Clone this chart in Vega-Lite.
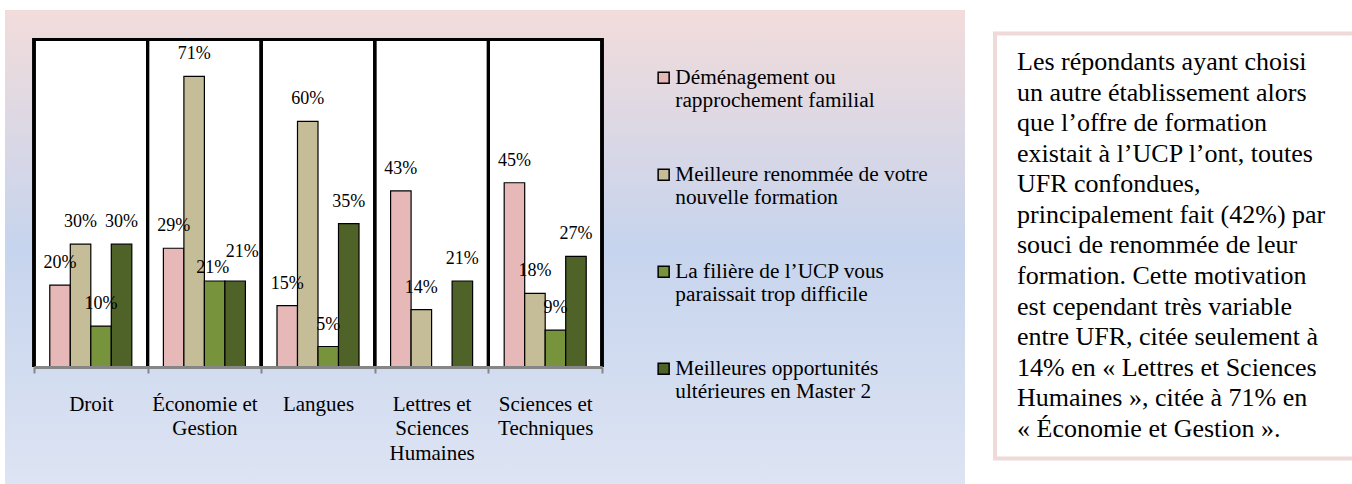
{
  "$schema": "https://vega.github.io/schema/vega-lite/v6.json",
  "padding": {"left": 5, "top": 10, "right": 0, "bottom": 0},
  "background": "white",
  "spacing": 28,
  "center": true,
  "config": {"font": "Liberation Serif", "text": {"font": "Liberation Serif"}, "view": {"stroke": null}},
  "hconcat": [
    {
      "width": 960,
      "height": 474,
      "view": {
        "stroke": null,
        "fill": {
          "gradient": "linear",
          "x1": 0, "y1": 0, "x2": 0, "y2": 1,
          "stops": [
            {"offset": 0, "color": "#f2dcdb"},
            {"offset": 0.5, "color": "#c6d4ed"},
            {"offset": 1, "color": "#dde4f3"}
          ]
        }
      },
      "data": {
        "values": [
          {"cat": "Droit", "series": "Déménagement ou rapprochement familial", "value": 0.20},
          {"cat": "Droit", "series": "Meilleure renommée de votre nouvelle formation", "value": 0.30},
          {"cat": "Droit", "series": "La filière de l’UCP vous paraissait trop difficile", "value": 0.10},
          {"cat": "Droit", "series": "Meilleures opportunités ultérieures en Master 2", "value": 0.30},
          {"cat": "Économie et Gestion", "series": "Déménagement ou rapprochement familial", "value": 0.29},
          {"cat": "Économie et Gestion", "series": "Meilleure renommée de votre nouvelle formation", "value": 0.71},
          {"cat": "Économie et Gestion", "series": "La filière de l’UCP vous paraissait trop difficile", "value": 0.21},
          {"cat": "Économie et Gestion", "series": "Meilleures opportunités ultérieures en Master 2", "value": 0.21},
          {"cat": "Langues", "series": "Déménagement ou rapprochement familial", "value": 0.15},
          {"cat": "Langues", "series": "Meilleure renommée de votre nouvelle formation", "value": 0.60},
          {"cat": "Langues", "series": "La filière de l’UCP vous paraissait trop difficile", "value": 0.05},
          {"cat": "Langues", "series": "Meilleures opportunités ultérieures en Master 2", "value": 0.35},
          {"cat": "Lettres et Sciences Humaines", "series": "Déménagement ou rapprochement familial", "value": 0.43},
          {"cat": "Lettres et Sciences Humaines", "series": "Meilleure renommée de votre nouvelle formation", "value": 0.14},
          {"cat": "Lettres et Sciences Humaines", "series": "Meilleures opportunités ultérieures en Master 2", "value": 0.21},
          {"cat": "Sciences et Techniques", "series": "Déménagement ou rapprochement familial", "value": 0.45},
          {"cat": "Sciences et Techniques", "series": "Meilleure renommée de votre nouvelle formation", "value": 0.18},
          {"cat": "Sciences et Techniques", "series": "La filière de l’UCP vous paraissait trop difficile", "value": 0.09},
          {"cat": "Sciences et Techniques", "series": "Meilleures opportunités ultérieures en Master 2", "value": 0.27}
        ]
      },
      "encoding": {
        "x": {
          "field": "cat",
          "type": "nominal",
          "scale": {
            "domain": ["Droit", "Économie et Gestion", "Langues", "Lettres et Sciences Humaines", "Sciences et Techniques"],
            "range": [29, 597],
            "paddingInner": 0,
            "paddingOuter": 0
          },
          "axis": {
            "orient": "bottom",
            "offset": -117,
            "title": null,
            "zindex": 1,
            "grid": false,
            "domainColor": "#868686",
            "domainWidth": 3,
            "tickColor": "#868686",
            "tickWidth": 2,
            "tickSize": 6,
            "tickBand": "extent",
            "labelFont": "Liberation Serif",
            "labelFontSize": 21,
            "labelColor": "black",
            "labelAngle": 0,
            "labelPadding": 20,
            "labelLineHeight": 24.5,
            "labelLimit": 0,
            "labelExpr": "datum.label == 'Économie et Gestion' ? ['Économie et', 'Gestion'] : datum.label == 'Lettres et Sciences Humaines' ? ['Lettres et', 'Sciences', 'Humaines'] : datum.label == 'Sciences et Techniques' ? ['Sciences et', 'Techniques'] : datum.label"
          }
        },
        "y": {
          "field": "value",
          "type": "quantitative",
          "scale": {"domain": [-0.2858, 0.872], "nice": false, "zero": false},
          "axis": null
        }
      },
      "layer": [
        {
          "mark": {"type": "bar", "width": {"band": 1}, "color": "white"},
          "encoding": {
            "y": {"datum": 0, "type": "quantitative", "axis": null},
            "y2": {"datum": 0.8}
          }
        },
        {
          "mark": {"type": "bar", "width": {"band": 1}, "color": "black"},
          "encoding": {
            "y": {"datum": 0.7965, "type": "quantitative", "axis": null},
            "y2": {"datum": 0.8035}
          }
        },
        {
          "mark": {"type": "rule", "color": "black", "strokeWidth": 3},
          "encoding": {
            "x": {"field": "cat", "type": "nominal", "bandPosition": 0},
            "y": {"datum": 0, "type": "quantitative", "axis": null},
            "y2": {"datum": 0.8035}
          }
        },
        {
          "transform": [{"filter": "datum.cat == 'Sciences et Techniques'"}],
          "mark": {"type": "rule", "color": "black", "strokeWidth": 3},
          "encoding": {
            "x": {"field": "cat", "type": "nominal", "bandPosition": 1},
            "y": {"datum": 0, "type": "quantitative", "axis": null},
            "y2": {"datum": 0.8035}
          }
        },
        {
          "mark": {"type": "bar", "stroke": "black", "strokeWidth": 1.2},
          "encoding": {
            "xOffset": {
              "field": "series",
              "type": "nominal",
              "sort": ["Déménagement ou rapprochement familial", "Meilleure renommée de votre nouvelle formation", "La filière de l’UCP vous paraissait trop difficile", "Meilleures opportunités ultérieures en Master 2"],
              "scale": {"paddingInner": 0, "paddingOuter": 0.77}
            },
            "color": {
              "field": "series",
              "type": "nominal",
              "scale": {
                "domain": ["Déménagement ou rapprochement familial", "Meilleure renommée de votre nouvelle formation", "La filière de l’UCP vous paraissait trop difficile", "Meilleures opportunités ultérieures en Master 2"],
                "range": ["#e6b9b8", "#c4bd97", "#77933c", "#4f6228"]
              },
              "legend": {
                "orient": "none",
                "legendX": 648,
                "legendY": 57,
                "title": null,
                "labelFont": "Liberation Serif",
                "labelFontSize": 21.3,
                "labelColor": "black",
                "labelLimit": 500,
                "labelLineHeight": 26,
                "labelOffset": 1,
                "rowPadding": 51,
                "symbolType": "square",
                "symbolSize": 121,
                "symbolStrokeColor": "black",
                "symbolStrokeWidth": 1.5,
                "symbolOpacity": 1,
                "labelExpr": "datum.label == 'Déménagement ou rapprochement familial' ? ['Déménagement ou', 'rapprochement familial'] : datum.label == 'Meilleure renommée de votre nouvelle formation' ? ['Meilleure renommée de votre', 'nouvelle formation'] : datum.label == 'La filière de l’UCP vous paraissait trop difficile' ? ['La filière de l’UCP vous', 'paraissait trop difficile'] : ['Meilleures opportunités', 'ultérieures en Master 2']"
              }
            }
          }
        },
        {
          "transform": [{"filter": "datum.cat != 'Économie et Gestion' || datum.value > 0.25"}],
          "mark": {"type": "text", "dy": -22, "baseline": "middle", "align": "center", "font": "Liberation Serif", "fontSize": 18, "color": "black"},
          "encoding": {
            "xOffset": {
              "field": "series",
              "type": "nominal",
              "sort": ["Déménagement ou rapprochement familial", "Meilleure renommée de votre nouvelle formation", "La filière de l’UCP vous paraissait trop difficile", "Meilleures opportunités ultérieures en Master 2"],
              "scale": {"paddingInner": 0, "paddingOuter": 0.77}
            },
            "text": {"field": "value", "type": "quantitative", "format": ".0%"}
          }
        },
        {
          "transform": [{"filter": "datum.cat == 'Économie et Gestion' && datum.series == 'La filière de l’UCP vous paraissait trop difficile'"}],
          "mark": {"type": "text", "dy": -13, "dx": -2, "baseline": "middle", "align": "center", "font": "Liberation Serif", "fontSize": 18, "color": "black"},
          "encoding": {
            "xOffset": {
              "field": "series",
              "type": "nominal",
              "sort": ["Déménagement ou rapprochement familial", "Meilleure renommée de votre nouvelle formation", "La filière de l’UCP vous paraissait trop difficile", "Meilleures opportunités ultérieures en Master 2"],
              "scale": {"paddingInner": 0, "paddingOuter": 0.77}
            },
            "text": {"field": "value", "type": "quantitative", "format": ".0%"}
          }
        },
        {
          "transform": [{"filter": "datum.cat == 'Économie et Gestion' && datum.series == 'Meilleures opportunités ultérieures en Master 2'"}],
          "mark": {"type": "text", "dy": -29, "dx": 7, "baseline": "middle", "align": "center", "font": "Liberation Serif", "fontSize": 18, "color": "black"},
          "encoding": {
            "xOffset": {
              "field": "series",
              "type": "nominal",
              "sort": ["Déménagement ou rapprochement familial", "Meilleure renommée de votre nouvelle formation", "La filière de l’UCP vous paraissait trop difficile", "Meilleures opportunités ultérieures en Master 2"],
              "scale": {"paddingInner": 0, "paddingOuter": 0.77}
            },
            "text": {"field": "value", "type": "quantitative", "format": ".0%"}
          }
        }
      ]
    },
    {
      "width": 372,
      "height": 425,
      "view": {"fill": "white", "stroke": "#f0d9d9", "strokeWidth": 4},
      "data": {
        "values": [
          {"line": 1, "text": "Les répondants ayant choisi"},
          {"line": 2, "text": "un autre établissement alors"},
          {"line": 3, "text": "que l’offre de formation"},
          {"line": 4, "text": "existait à l’UCP l’ont, toutes"},
          {"line": 5, "text": "UFR confondues,"},
          {"line": 6, "text": "principalement fait (42%) par"},
          {"line": 7, "text": "souci de renommée de leur"},
          {"line": 8, "text": "formation. Cette motivation"},
          {"line": 9, "text": "est cependant très variable"},
          {"line": 10, "text": "entre UFR, citée seulement à"},
          {"line": 11, "text": "14% en « Lettres et Sciences"},
          {"line": 12, "text": "Humaines », citée à 71% en"},
          {"line": 13, "text": "« Économie et Gestion »."}
        ]
      },
      "mark": {"type": "text", "align": "left", "baseline": "middle", "font": "Liberation Serif", "fontSize": 26, "dx": 22, "color": "black"},
      "encoding": {
        "x": {"datum": 0, "type": "quantitative", "scale": {"domain": [0, 1], "nice": false}, "axis": null},
        "y": {"field": "line", "type": "quantitative", "scale": {"domain": [0.068, 13.965], "reverse": true, "nice": false, "zero": false}, "axis": null},
        "text": {"field": "text"}
      }
    }
  ]
}
